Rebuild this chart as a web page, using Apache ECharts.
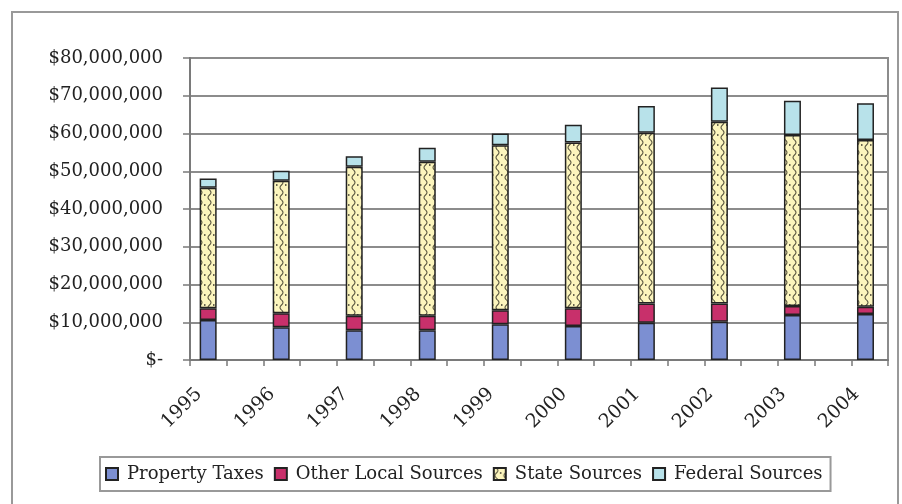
<!DOCTYPE html>
<html><head><meta charset="utf-8">
<script src="https://cdn.jsdelivr.net/npm/echarts@6/dist/echarts.min.js"></script>
<style>html,body{margin:0;padding:0;background:#fff}#c{width:902px;height:504px}</style>
</head><body><div id="c"></div>
<script>
const years = ['1995','1996','1997','1998','1999','2000','2001','2002','2003','2004'];
const propertyTaxes     = [10600000, 8700000, 7900000, 7900000, 9500000, 9000000, 9900000, 10100000, 11900000, 12200000];
const otherLocalSources = [3100000, 3700000, 3800000, 3800000, 3700000, 4700000, 5100000, 4900000, 2400000, 1900000];
const stateSources      = [31900000, 35100000, 39500000, 40800000, 43700000, 43900000, 45200000, 48100000, 45300000, 44200000];
const federalSources    = [2500000, 2600000, 2800000, 3700000, 3100000, 4700000, 7100000, 9100000, 9100000, 9700000];
const yTickLabels = ['$-','$10,000,000','$20,000,000','$30,000,000','$40,000,000','$50,000,000','$60,000,000','$70,000,000','$80,000,000'];

const FONT = 'DejaVu Serif';
function makePattern(){
  const c = document.createElement('canvas'); c.width = 9; c.height = 10;
  const g = c.getContext('2d');
  g.fillStyle = '#fcf5bd'; g.fillRect(0,0,9,10);
  g.strokeStyle = '#5a5640'; g.lineWidth = 1.1;
  g.beginPath(); g.moveTo(2.5,0); g.quadraticCurveTo(5.5,2.5,2.5,5); g.quadraticCurveTo(-0.5,7.5,2.5,10); g.stroke();
  g.fillStyle = '#6a6650'; g.fillRect(6,4,1.5,2);
  return c;
}
const plotLeft = 190, plotTop = 58, plotW = 698, plotH = 302;
const slot = plotW / 19;
const chart = echarts.init(document.getElementById('c'), null, {renderer:'canvas'});
const border = {borderColor:'#222', borderWidth:1.5};
function bar(name, data, color){
  return {name, type:'bar', stack:'total', xAxisIndex:1, yAxisIndex:1, barWidth:17, data,
    itemStyle:Object.assign({color}, border)};
}
chart.setOption({
  animation:false,
  backgroundColor:'#fff',
  graphic:[{type:'rect', shape:{x:12,y:12,width:886,height:500}, style:{fill:'none', stroke:'#999', lineWidth:2}, z:-10}],
  grid:[
    {left:plotLeft, top:plotTop, width:plotW, height:plotH, show:true, backgroundColor:'#fff', borderColor:'#8c8c8c', borderWidth:2},
    {left:plotLeft - slot/2, top:plotTop, width:slot*2*years.length, height:plotH}
  ],
  xAxis:[
    {gridIndex:0, type:'value', min:0, max:19, interval:1,
     axisLine:{show:true, lineStyle:{color:'#7a7a7a', width:2}},
     axisTick:{show:true, length:6, lineStyle:{color:'#7a7a7a', width:1.5}},
     axisLabel:{show:false}, splitLine:{show:false}},
    {gridIndex:1, type:'category', data:years,
     axisLine:{show:false}, axisTick:{show:false},
     axisLabel:{rotate:45, margin:22, padding:[0,13,0,0], fontFamily:FONT, fontSize:19, color:'#222'}}
  ],
  yAxis:[
    {gridIndex:0, type:'value', min:0, max:80000000, interval:10000000,
     axisLine:{show:true, lineStyle:{color:'#7a7a7a', width:2}},
     axisTick:{show:true, length:7, lineStyle:{color:'#7a7a7a', width:1.5}},
     splitLine:{show:true, lineStyle:{color:'#8c8c8c', width:2}},
     axisLabel:{margin:27, fontFamily:FONT, fontSize:18, color:'#222',
       formatter:(v)=>yTickLabels[Math.round(v/10000000)]}},
    {gridIndex:1, type:'value', min:0, max:80000000, show:false}
  ],
  legend:{left:100, top:457, orient:'horizontal', icon:'rect', itemWidth:12, itemHeight:12, itemGap:10,
    padding:[8,8,8,5], borderColor:'#999', borderWidth:2,
    textStyle:{fontFamily:FONT, fontSize:18, color:'#222', padding:[0,0,0,4]},
    data:['Property Taxes','Other Local Sources','State Sources','Federal Sources']},
  series:[
    bar('Property Taxes', propertyTaxes, '#7c8fd2'),
    bar('Other Local Sources', otherLocalSources, '#c8306b'),
    bar('State Sources', stateSources, {image:makePattern(), repeat:'repeat'}),
    bar('Federal Sources', federalSources, '#b8e2ea')
  ]
});
</script></body></html>
